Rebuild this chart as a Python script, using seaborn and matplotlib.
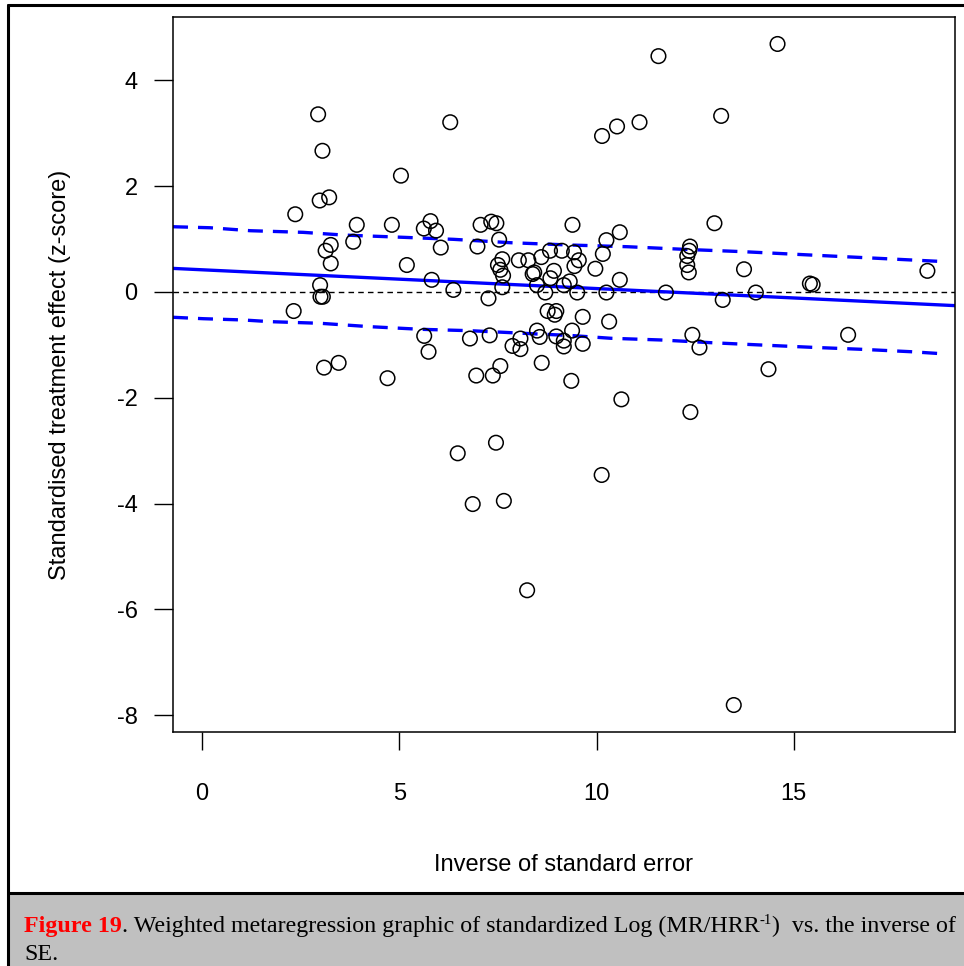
import numpy as np
import pandas as pd
import matplotlib
matplotlib.use("Agg")
import matplotlib.pyplot as plt
import seaborn as sns
from matplotlib.lines import Line2D
from matplotlib.patches import Rectangle

# Study-level precision (1/SE) and standardised effect (z-score)
inv_se = [2.94, 6.29, 3.05, 5.04, 2.98, 3.22, 2.36, 3.92, 4.81, 5.62,
          5.79, 5.93, 7.06, 7.33, 7.46, 9.39, 3.83, 3.26, 3.13, 3.26,
          5.19, 6.05, 6.98, 7.53, 5.82, 6.37, 2.99, 3.00, 3.06, 7.26,
          7.61, 7.50, 7.56, 7.63, 7.61, 8.03, 8.27, 8.60, 8.82, 9.12,
          8.38, 8.42, 8.92, 8.83, 8.49, 8.70, 9.17, 9.32, 14.59, 11.57,
          13.16, 11.09, 10.52, 10.14, 12.99, 10.59, 10.25, 12.37, 12.35, 12.30,
          12.30, 12.34, 10.16, 9.43, 9.55, 9.44, 9.97, 13.74, 10.59, 18.39,
          15.41, 15.48, 9.51, 10.25, 11.76, 14.04, 13.20, 9.65, 10.32, 9.38,
          9.65, 12.43, 12.61, 16.38, 14.36, 9.36, 10.63, 12.38, 10.13, 2.32,
          3.09, 3.46, 4.70, 5.63, 5.74, 6.79, 7.29, 6.95, 7.37, 7.56,
          7.87, 8.07, 8.07, 8.49, 8.56, 8.61, 8.76, 8.98, 8.94, 8.98,
          9.17, 9.17, 6.48, 7.45, 6.86, 7.65, 8.24, 13.48]
z_score = [3.36, 3.21, 2.67, 2.20, 1.73, 1.79, 1.47, 1.27, 1.27, 1.20,
           1.34, 1.16, 1.27, 1.33, 1.30, 1.27, 0.95, 0.89, 0.78, 0.54,
           0.51, 0.84, 0.86, 0.99, 0.23, 0.04, 0.13, -0.09, -0.09, -0.12,
           0.62, 0.51, 0.42, 0.31, 0.09, 0.60, 0.60, 0.66, 0.78, 0.78,
           0.34, 0.37, 0.40, 0.26, 0.13, -0.01, 0.13, 0.20, 4.69, 4.46,
           3.33, 3.21, 3.13, 2.95, 1.30, 1.13, 0.98, 0.86, 0.78, 0.68,
           0.51, 0.37, 0.72, 0.75, 0.60, 0.49, 0.44, 0.43, 0.23, 0.40,
           0.16, 0.14, -0.01, -0.01, -0.01, -0.01, -0.15, -0.47, -0.56, -0.73,
           -0.98, -0.81, -1.05, -0.81, -1.46, -1.68, -2.03, -2.27, -3.46, -0.36,
           -1.43, -1.34, -1.63, -0.83, -1.13, -0.88, -0.82, -1.58, -1.58, -1.40,
           -1.02, -0.88, -1.08, -0.73, -0.85, -1.34, -0.36, -0.36, -0.43, -0.84,
           -0.92, -1.03, -3.05, -2.85, -4.01, -3.95, -5.64, -7.81]

# Weighted meta-regression fit
fit_intercept = 0.42
fit_slope = -0.0355

# Pointwise band around the fit
band_x = [-0.74, 0.20, 1.22, 2.56, 3.58, 5.10, 6.37, 7.82, 9.34, 10.79,
          12.21, 13.73, 15.43, 17.13, 18.86]
band_upper = [1.234, 1.215, 1.159, 1.128, 1.077, 1.034, 0.996, 0.932, 0.888, 0.856,
              0.807, 0.762, 0.699, 0.637, 0.573]
band_lx = [-0.74, 0.03, 1.04, 1.73, 3.00, 4.26, 5.53, 6.80, 7.64, 8.50,
           9.34, 10.36, 11.62, 12.89, 14.16, 15.43, 16.70, 17.97, 18.86]
band_lower = [-0.478, -0.505, -0.529, -0.561, -0.592, -0.656, -0.705, -0.732, -0.762, -0.794,
              -0.822, -0.875, -0.907, -0.958, -1.002, -1.045, -1.083, -1.129, -1.172]

x_ticks = [0, 5, 10, 15]
y_ticks = [-8, -6, -4, -2, 0, 2, 4]
x_label = "Inverse of standard error"
y_label = "Standardised treatment effect (z-score)"

sns.set_style("white")
plt.rcParams["font.family"] = ["Liberation Sans", "DejaVu Sans"]
plt.rcParams["axes.unicode_minus"] = False

W, H = 964, 966
fig = plt.figure(figsize=(W / 100, H / 100), dpi=100)
fig.patch.set_facecolor("white")

# axes box in pixel coordinates
L, R, T, B = 173, 955, 17, 732
ax = fig.add_axes([L / W, 1 - B / H, (R - L) / W, (B - T) / H])
xlim = (-0.74, 19.09)
ax.set_xlim(*xlim)
ax.set_ylim(-8.32, 5.2)

df = pd.DataFrame({"inv_se": inv_se, "z": z_score})

# zero reference
ax.axhline(0, color="black", lw=1.0, ls=(0, (4, 3)), zorder=1)

# fitted line
fx = np.array(xlim)
fit_df = pd.DataFrame({"x": fx, "y": fit_intercept + fit_slope * fx})
sns.lineplot(data=fit_df, x="x", y="y", ax=ax, color="#0000ff", lw=2.4,
             zorder=2, legend=False)

# band limits
sns.lineplot(x=band_x, y=band_upper, ax=ax, color="#0000ff", lw=2.4,
             zorder=2, legend=False, sort=False).lines[-1].set_dashes([4.5, 3.0])
sns.lineplot(x=band_lx, y=band_lower, ax=ax, color="#0000ff", lw=2.4,
             zorder=2, legend=False, sort=False).lines[-1].set_dashes([4.5, 3.0])

# study points
sns.scatterplot(data=df, x="inv_se", y="z", ax=ax, marker="o", s=110,
                facecolor="none", edgecolor="black", linewidth=1.1, zorder=3)

for sp in ax.spines.values():
    sp.set_color("black")
    sp.set_linewidth(1.1)

ax.set_xticks(x_ticks)
ax.set_yticks(y_ticks)
ax.set_xticklabels([str(v) for v in x_ticks])
ax.set_yticklabels([str(v) for v in y_ticks])
ax.tick_params(axis="x", direction="out", length=13, width=1.0, pad=24,
               labelsize=17, colors="black", bottom=True)
ax.tick_params(axis="y", direction="out", length=13.5, width=1.0, pad=12,
               labelsize=17, colors="black", left=True)
ax.set_xlabel(x_label, fontsize=17, labelpad=35, color="black")
ax.set_ylabel(y_label, fontsize=17, labelpad=33, color="black")
ax.grid(False)

# page frame and caption panel
fig.add_artist(Rectangle((9 / W, 0), (W - 9) / W, (H - 894) / H,
                         transform=fig.transFigure, facecolor="#c0c0c0",
                         edgecolor="none", zorder=0))
fig.add_artist(Line2D([8 / W, 1], [1 - 5 / H, 1 - 5 / H], transform=fig.transFigure,
                      color="black", lw=2.2))
fig.add_artist(Line2D([8 / W, 8 / W], [0, 1 - 5 / H], transform=fig.transFigure,
                      color="black", lw=2.2))
fig.add_artist(Line2D([8 / W, 1], [1 - 893 / H, 1 - 893 / H], transform=fig.transFigure,
                      color="black", lw=2.2))

# caption with mixed styling
serif = ["Liberation Serif", "DejaVu Serif"]
cap_size = 17.3
renderer = fig.canvas.get_renderer()
y1 = 1 - 932 / H
t1 = fig.text(24 / W, y1, "Figure 19", color="#ff0000", fontweight="bold",
              family=serif, fontsize=cap_size, va="baseline")
x_px = t1.get_window_extent(renderer).x1
t2 = fig.text(x_px / W, y1, ". Weighted metaregression graphic of standardized Log (MR/HRR",
              color="black", family=serif, fontsize=cap_size, va="baseline")
x_px = t2.get_window_extent(renderer).x1
t3 = fig.text(x_px / W, y1 + 8 / H, "-1", color="black", family=serif,
              fontsize=cap_size * 0.62, va="baseline")
x_px = t3.get_window_extent(renderer).x1
fig.text(x_px / W, y1, ")  vs. the inverse of", color="black", family=serif,
         fontsize=cap_size, va="baseline")
fig.text(24 / W, 1 - 960 / H, "SE.", color="black", family=serif,
         fontsize=cap_size, va="baseline")

fig.savefig("out.png", dpi=100)
